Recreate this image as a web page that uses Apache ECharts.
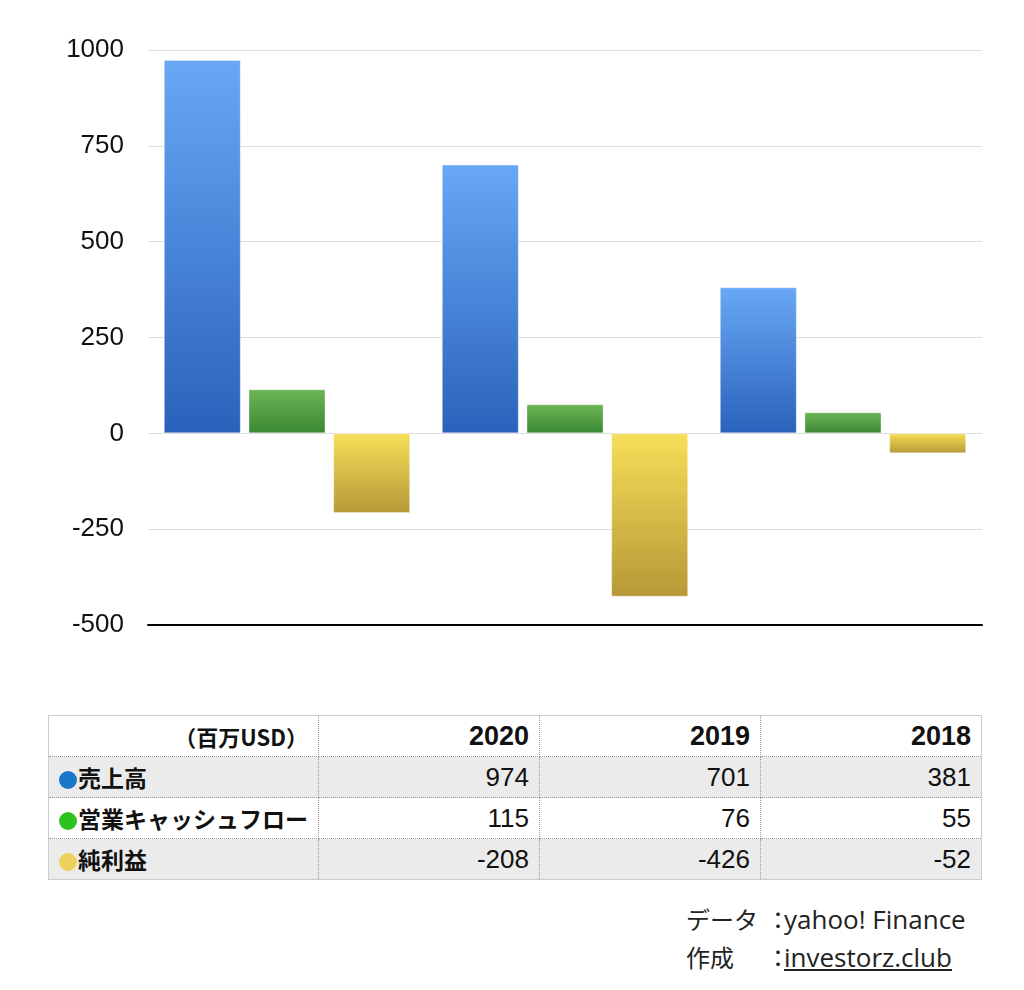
<!DOCTYPE html>
<html>
<head>
<meta charset="utf-8">
<script src="https://cdn.jsdelivr.net/npm/echarts@6/dist/echarts.min.js"></script>
<style>
  html, body { margin: 0; padding: 0; background: #fff; }
  body { width: 1024px; height: 990px; position: relative; overflow: hidden;
         font-family: "Liberation Sans", "Noto Sans CJK JP", sans-serif; color: #111; }
  #main { position: absolute; left: 0; top: 0; width: 1024px; height: 680px; }
  #tbl { position: absolute; left: 48px; top: 715px; width: 934px; border-collapse: collapse;
         border: 1px solid #ccc; font-size: 26px; }
  #tbl td { height: 40px; padding: 0 10px; text-align: right; border: 1px dotted #999; }
  #tbl tr:nth-child(even) td { background: #ebebeb; }
  #tbl tr:first-child td { font-weight: bold; font-size: 27px; }
  #tbl td.name { text-align: left; font-weight: bold; padding-left: 10px; white-space: nowrap;
                 font-size: 23px; font-family: "Noto Sans CJK JP", sans-serif; }
  #tbl tr:first-child td.unit { text-align: right; font-size: 22px; font-family: "Noto Sans CJK JP", sans-serif; }
  .dot { display: inline-block; width: 18px; height: 18px; border-radius: 50%; vertical-align: -2px; margin-right: 1px; }
  #foot { position: absolute; left: 686px; top: 900px; font-size: 26px; line-height: 38px; color: #222;
          font-family: "Open Sans", "Noto Sans CJK JP", sans-serif; }
  #foot .lb { display: inline-block; width: 80px; font-size: 24px; font-family: "Noto Sans CJK JP", sans-serif; }
  #foot .cl { display: inline-block; width: 18px; font-size: 24px; font-family: "Noto Sans CJK JP", sans-serif; }
  #foot u { text-decoration: underline; }
</style>
</head>
<body>
<div id="main"></div>
<table id="tbl"></table>
<div id="foot">
  <div><span class="lb">データ</span><span class="cl">：</span>yahoo! Finance</div>
  <div><span class="lb">作成</span><span class="cl">：</span><u>investorz.club</u></div>
</div>
<script>
// データ（百万USD）
var years = ['2020', '2019', '2018'];
var seriesNames = ['売上高', '営業キャッシュフロー', '純利益'];
var sales = [974, 701, 381];
var opCashFlow = [115, 76, 55];
var netIncome = [-208, -426, -52];
var yTicks = [-500, -250, 0, 250, 500, 750, 1000];

var dotColors = ['#1877c9', '#2ec21e', '#ecd25a'];
var grads = [
    ['#68a8f5', '#2a62bb'],
    ['#6db556', '#3a8833'],
    ['#f5df58', '#b79837']
];

function grad(c) {
    return new echarts.graphic.LinearGradient(0, 0, 0, 1, [
        { offset: 0, color: c[0] },
        { offset: 1, color: c[1] }
    ]);
}

var myChart = echarts.init(document.getElementById('main'));
var allData = [sales, opCashFlow, netIncome];
var seriesArr = [];
for (var i = 0; i < allData.length; i++) {
    seriesArr.push({
        name: seriesNames[i],
        type: 'bar',
        data: allData[i],
        barWidth: 77,
        barGap: '10%',
        itemStyle: { color: grad(grads[i]), borderColor: 'rgba(255,255,255,0.35)', borderWidth: 1 },
        animation: false
    });
}

var option = {
    animation: false,
    grid: { left: 148, right: 42, top: 50, height: 575 },
    xAxis: {
        type: 'category',
        data: years,
        axisLine: { onZero: false, lineStyle: { color: '#000', width: 2 } },
        axisTick: { show: false },
        axisLabel: { show: false }
    },
    yAxis: {
        type: 'value',
        min: yTicks[0],
        max: yTicks[yTicks.length - 1],
        interval: 250,
        axisLine: { show: false },
        axisTick: { show: false },
        axisLabel: {
            color: '#111', fontSize: 26, margin: 24, fontFamily: 'Liberation Sans',
            formatter: function (v) { return String(v); }
        },
        splitLine: { lineStyle: { color: '#dedede', width: 1 } }
    },
    series: seriesArr
};
myChart.setOption(option);

// 表
var tbl = document.getElementById('tbl');
var html = '<tr><td class="unit">（百万USD）</td>';
for (var j = 0; j < years.length; j++) html += '<td>' + years[j] + '</td>';
html += '</tr>';
for (var k = 0; k < seriesNames.length; k++) {
    html += '<tr><td class="name"><span class="dot" style="background:' + dotColors[k] + '"></span>' + seriesNames[k] + '</td>';
    for (var m = 0; m < years.length; m++) html += '<td>' + allData[k][m] + '</td>';
    html += '</tr>';
}
tbl.innerHTML = html;
var firstCells = tbl.rows[0].cells;
firstCells[0].style.width = '248px';
firstCells[1].style.width = '200px';
firstCells[2].style.width = '200px';
</script>
</body>
</html>
